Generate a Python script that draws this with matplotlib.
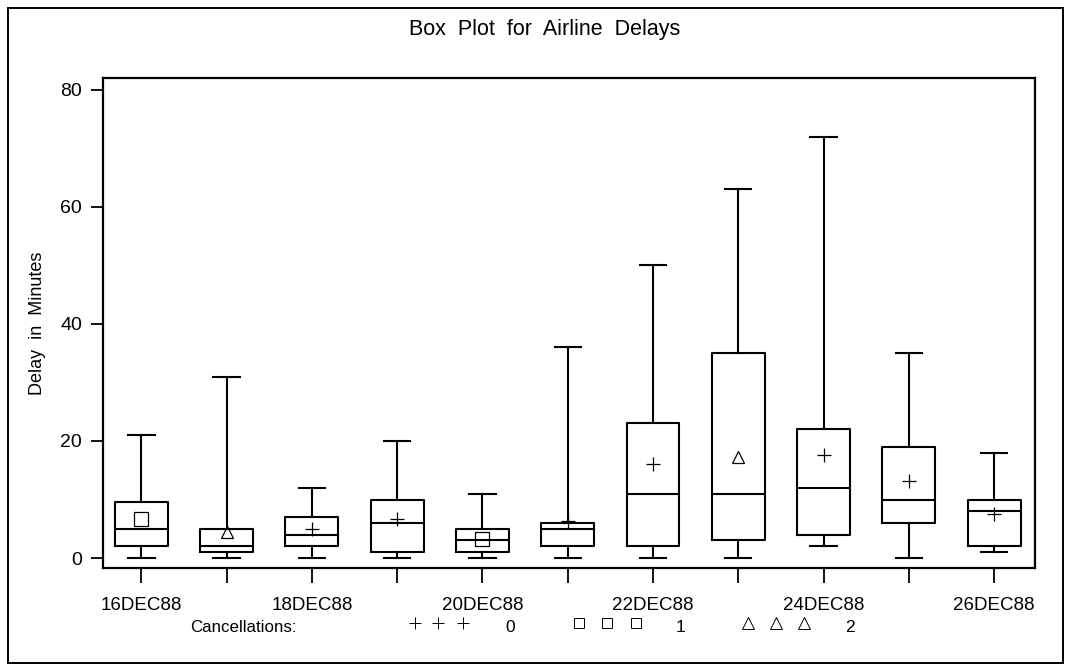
import matplotlib
matplotlib.use("Agg")
import matplotlib.pyplot as plt
from matplotlib.lines import Line2D
from matplotlib.patches import Rectangle

plt.rcParams['font.family'] = ['Liberation Sans', 'DejaVu Sans']

# Box plot summary values
days = ['16DEC88', '17DEC88', '18DEC88', '19DEC88', '20DEC88', '21DEC88',
        '22DEC88', '23DEC88', '24DEC88', '25DEC88', '26DEC88']
whisk_lo = [0, 0, 0, 0, 0, 0, 0, 0, 2, 0, 1]
q1 = [2, 1, 2, 1, 1, 2, 2, 3, 4, 6, 2]
med = [5, 2, 4, 6, 3, 5, 11, 11, 12, 10, 8]
q3 = [9.5, 5, 7, 10, 5, 6, 23, 35, 22, 19, 10]
whisk_hi = [21, 31, 12, 20, 11, 36, 50, 63, 72, 35, 18]
means = [6.6, 4.4, 5, 6.7, 3.3, 6.3, 16.1, 17.3, 17.6, 13.2, 7.5]
cancellations = [1, 2, 0, 0, 1, 0, 0, 2, 0, 0, 0]

symbols = {0: '+', 1: 's', 2: '^'}
sym_size = {0: 10.5, 1: 9.4, 2: 9.2}
legend_size = {0: 8.5, 1: 7.5, 2: 8}

fig = plt.figure(figsize=(10.72, 6.71), dpi=100)
ax = fig.add_axes([103 / 1072, 1 - 568 / 671, (1035 - 103) / 1072, (568 - 78) / 671])

stats = []
for i, d in enumerate(days):
    stats.append({'label': d, 'whislo': whisk_lo[i], 'q1': q1[i], 'med': med[i],
                  'q3': q3[i], 'whishi': whisk_hi[i], 'fliers': []})

lw = 1.5
ax.bxp(stats, positions=range(len(days)), widths=0.62, showfliers=False,
       boxprops=dict(color='black', linewidth=lw),
       medianprops=dict(color='black', linewidth=lw),
       whiskerprops=dict(color='black', linewidth=lw),
       capprops=dict(color='black', linewidth=lw), capwidths=0.31)

for i in range(len(days)):
    c = cancellations[i]
    ax.plot(i, means[i], marker=symbols[c], markersize=sym_size[c],
            markerfacecolor='none', markeredgecolor='black', markeredgewidth=0.9,
            linestyle='none')

ax.set_xlim(-0.45, 10.48)
ax.set_ylim(-1.7, 82)
ax.set_yticks([0, 20, 40, 60, 80])
ax.set_xticks(range(len(days)))
ax.set_xticklabels([d if i % 2 == 0 else '' for i, d in enumerate(days)])
ax.tick_params(direction='out', length=9, width=1.3, labelsize=13.5, pad=6, colors='black')
ax.tick_params(axis='y', labelsize=14)
ax.tick_params(axis='x', length=11, pad=10)
for s in ax.spines.values():
    s.set_linewidth(1.6)
ax.set_ylabel('Delay  in  Minutes', fontsize=13, labelpad=10)

fig.text(545 / 1072, 1 - 30 / 671, 'Box  Plot  for  Airline  Delays', ha='center', va='center',
         fontsize=15.5)

# bottom symbol legend
ly = 1 - 628 / 671
fig.text(190 / 1072, ly, 'Cancellations:', ha='left', va='center', fontsize=12.2)
legend_x = {0: [415, 438, 463], 1: [579, 607, 636], 2: [748, 776, 804]}
label_x = {0: 510, 1: 680, 2: 850}
for c in [0, 1, 2]:
    for x in legend_x[c]:
        fig.add_artist(Line2D([x / 1072], [1 - 623 / 671], transform=fig.transFigure,
                              marker=symbols[c], markersize=legend_size[c],
                              markerfacecolor='none', markeredgecolor='black',
                              markeredgewidth=0.7, linestyle='none'))
    fig.text(label_x[c] / 1072, ly, str(c), ha='center', va='center', fontsize=12.5)

# outer frame around the whole graph
fig.add_artist(Rectangle((8 / 1072, 8 / 671), 1055 / 1072, 655 / 671,
                         transform=fig.transFigure, fill=False, edgecolor='black', linewidth=1.4))

fig.savefig('out.png', dpi=100)
